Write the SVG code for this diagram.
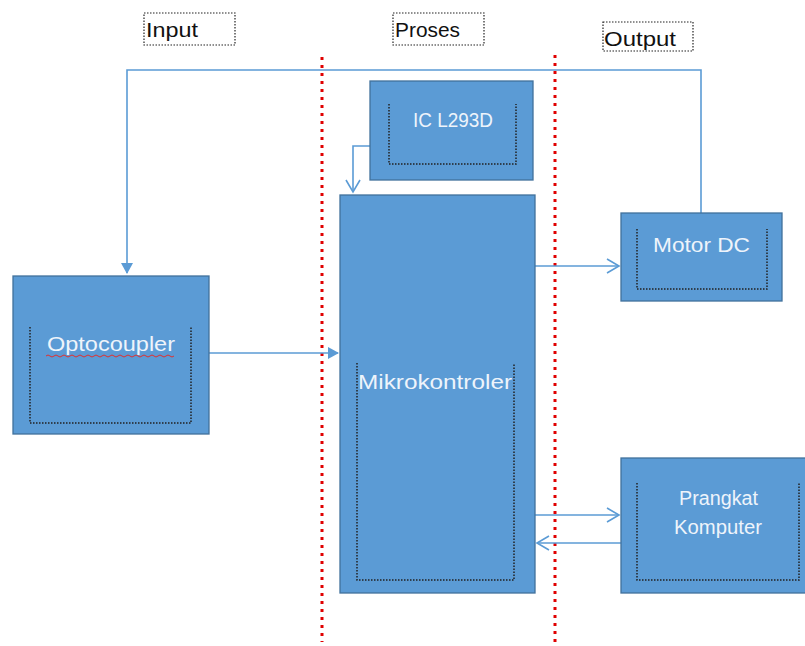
<svg xmlns="http://www.w3.org/2000/svg" width="805" height="646" viewBox="0 0 805 646">
<style>
.box{fill:#5B9BD5;stroke:#41719C;stroke-width:1.3}
.inner{fill:none;stroke:#222;stroke-width:1.5;stroke-dasharray:1.5 1.5}
.lbl{fill:none;stroke:#222;stroke-width:1.2;stroke-dasharray:1.5 1.5}
.t{font-family:"Liberation Sans",Arial,sans-serif;font-size:20px;fill:#EEF4FB}
.h{font-family:"Liberation Sans",Arial,sans-serif;font-size:21px;fill:#111}
.conn{fill:none;stroke:#5B9BD5;stroke-width:1.6}
.sep{fill:none;stroke:#E00000;stroke-width:3;stroke-dasharray:3 5}
</style>
<defs>
<marker id="fill" markerWidth="12" markerHeight="12" refX="10" refY="6" orient="auto" markerUnits="userSpaceOnUse">
<path d="M0,0 L11,6 L0,12 z" fill="#5B9BD5"/>
</marker>
<marker id="open" markerWidth="16" markerHeight="16" refX="13" refY="8" orient="auto" markerUnits="userSpaceOnUse">
<path d="M1,1 L13,8 L1,15" fill="none" stroke="#5B9BD5" stroke-width="1.6"/>
</marker>
</defs>

<g id="labels">
<rect class="lbl" x="144" y="13" width="91" height="32"/>
<text class="h" x="146" y="37" textLength="52" lengthAdjust="spacingAndGlyphs">Input</text>
<rect class="lbl" x="393" y="13" width="91" height="32"/>
<text class="h" x="395" y="37" textLength="65" lengthAdjust="spacingAndGlyphs">Proses</text>
<rect class="lbl" x="603" y="22" width="90" height="29"/>
<text class="h" x="604" y="46" textLength="72" lengthAdjust="spacingAndGlyphs">Output</text>
</g>

<g id="separators">
<line class="sep" x1="322" y1="57" x2="322" y2="642"/>
<line class="sep" x1="555" y1="55" x2="555" y2="642"/>
</g>

<g id="connectors">
<path class="conn" d="M701,213 V70 H127 V273" marker-end="url(#fill)"/>
<path class="conn" d="M370,146 H353 V192" marker-end="url(#open)"/>
<path class="conn" d="M209,353 H338" marker-end="url(#fill)"/>
<path class="conn" d="M535,266 H619" marker-end="url(#open)"/>
<path class="conn" d="M535,515 H619" marker-end="url(#open)"/>
<path class="conn" d="M621,543 H537" marker-end="url(#open)"/>
</g>

<g id="ic">
<rect class="box" x="370" y="81" width="163" height="99"/>
<path class="inner" d="M389,104 V164 H516 V104"/>
<text class="t" x="413" y="127" textLength="80" lengthAdjust="spacingAndGlyphs">IC L293D</text>
</g>

<g id="mikrokontroler">
<rect class="box" x="340" y="195" width="195" height="398"/>
<path class="inner" d="M357,363 V580 H514 V363"/>
<text class="t" x="358" y="389" textLength="154" lengthAdjust="spacingAndGlyphs">Mikrokontroler</text>
</g>

<g id="optocoupler">
<rect class="box" x="13" y="276" width="196" height="158"/>
<path class="inner" d="M30,327 V423 H191 V327"/>
<text class="t" x="47" y="351" textLength="128" lengthAdjust="spacingAndGlyphs">Optocoupler</text>
<path d="M46,356 q2,-2 4,0 t4,0 t4,0 t4,0 t4,0 t4,0 t4,0 t4,0 t4,0 t4,0 t4,0 t4,0 t4,0 t4,0 t4,0 t4,0 t4,0 t4,0 t4,0 t4,0 t4,0 t4,0 t4,0 t4,0 t4,0 t4,0 t4,0 t4,0 t4,0 t4,0 t4,0 t4,0" fill="none" stroke="#E03030" stroke-width="1"/>
</g>

<g id="motor">
<rect class="box" x="621" y="213" width="161" height="88"/>
<path class="inner" d="M637,229 V289 H767 V229"/>
<text class="t" x="653" y="252" textLength="97" lengthAdjust="spacingAndGlyphs">Motor DC</text>
</g>

<g id="komputer">
<rect class="box" x="621" y="458" width="185" height="135"/>
<path class="inner" d="M637,483 V580 H799 V483"/>
<text class="t" x="679" y="505" textLength="79" lengthAdjust="spacingAndGlyphs">Prangkat</text>
<text class="t" x="674" y="534" textLength="88" lengthAdjust="spacingAndGlyphs">Komputer</text>
</g>
</svg>
